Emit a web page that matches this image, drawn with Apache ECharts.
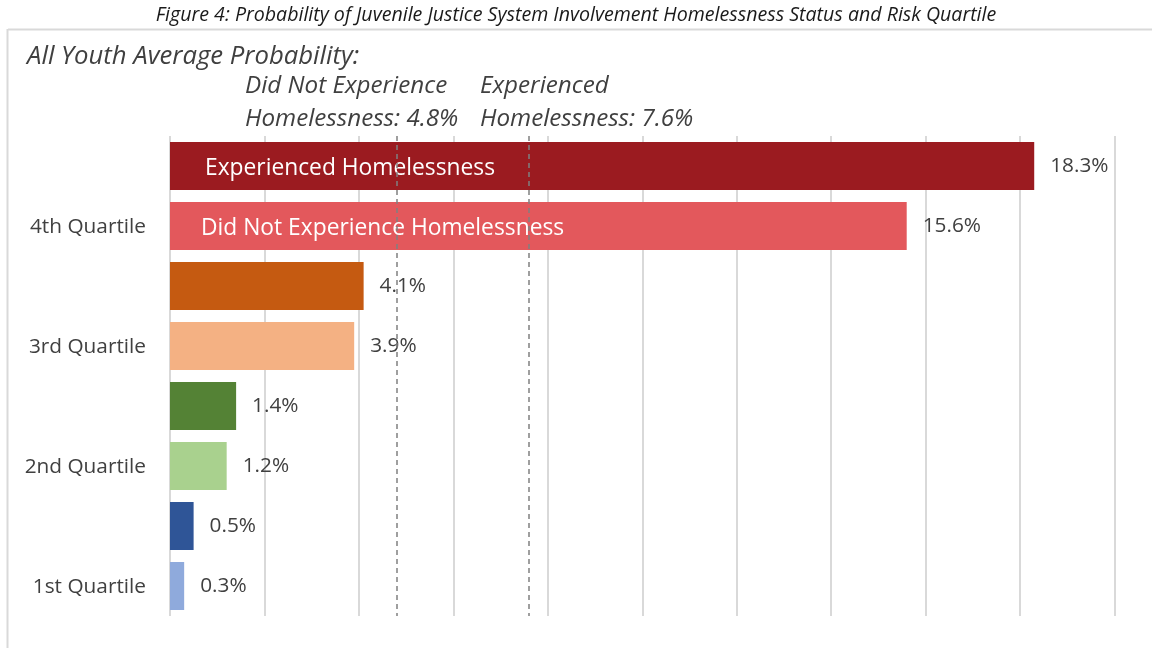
<!DOCTYPE html>
<html>
<head>
<meta charset="utf-8">
<script src="https://cdn.jsdelivr.net/npm/echarts@6/dist/echarts.min.js"></script>
<style>
  html, body { margin: 0; padding: 0; background: #ffffff; }
  #chart { width: 1152px; height: 648px; }
</style>
</head>
<body>
<div id="chart"></div>
<script>
// Probability (%) of juvenile justice system involvement by risk quartile
const quartiles = ['4th Quartile', '3rd Quartile', '2nd Quartile', '1st Quartile'];
const experienced = [18.3, 4.1, 1.4, 0.5];
const notExperienced = [15.6, 3.9, 1.2, 0.3];
const averageNot = 4.8;
const averageExperienced = 7.6;

const seriesNames = ['Experienced Homelessness', 'Did Not Experience Homelessness'];
const darkColors = ['#9b1b20', '#c55a11', '#548235', '#2f5597'];
const lightColors = ['#e3585c', '#f4b183', '#a9d18e', '#8faadc'];

const FONT = '"Open Sans"';
const TEXT = '#404040';

function colored(values, colors) {
  return values.map((v, i) => ({ value: v, itemStyle: { color: colors[i] } }));
}

// zero-length bar at the start of the top group that carries the series name
function nameCarrier(values) {
  return values.map((v, i) => (i === 0 ? 0 : '-'));
}

const chart = echarts.init(document.getElementById('chart'));

const valueLabel = {
  show: true,
  position: 'right',
  distance: 16,
  color: TEXT,
  fontFamily: FONT,
  fontSize: 20.8,
  formatter: p => p.value.toFixed(1) + '%'
};

const nameLabel = (dist) => ({
  show: true,
  position: 'right',
  distance: dist,
  offset: [0, 3],
  color: '#ffffff',
  fontFamily: FONT,
  fontSize: 22.8,
  formatter: p => p.seriesName
});

chart.setOption({
  animation: false,
  backgroundColor: '#ffffff',
  grid: { left: 170, right: 37.5, top: 136, bottom: 32, containLabel: false },
  xAxis: {
    type: 'value',
    min: 0,
    max: 20,
    interval: 2,
    axisLabel: { show: false },
    axisLine: { show: false },
    axisTick: { show: false },
    splitLine: { show: true, lineStyle: { color: '#d9d9d9', width: 2 } }
  },
  yAxis: {
    type: 'category',
    data: quartiles,
    inverse: true,
    axisLine: { show: false },
    axisTick: { show: false },
    axisLabel: {
      interval: 0,
      hideOverlap: false,
      color: TEXT,
      fontFamily: FONT,
      fontSize: 20.8,
      margin: 24,
      lineHeight: 62,
      // each quartile name sits beside the lower bar of its pair
      formatter: v => '\n' + v
    }
  },
  graphic: [
    { type: 'line', shape: { x1: 8, y1: 29.5, x2: 1152, y2: 29.5 }, style: { stroke: '#d9d9d9', lineWidth: 2 } },
    { type: 'line', shape: { x1: 7.5, y1: 29, x2: 7.5, y2: 648 }, style: { stroke: '#d9d9d9', lineWidth: 2 } },
    { type: 'text', left: 'center', top: 5,
      style: { text: 'Figure 4: Probability of Juvenile Justice System Involvement Homelessness Status and Risk Quartile',
               fill: '#1a1a1a', font: 'italic 19.6px ' + FONT } },
    { type: 'text', left: 27, top: 44,
      style: { text: 'All Youth Average Probability:', fill: TEXT, font: 'italic 25.7px ' + FONT } },
    { type: 'text', left: 245, top: 70,
      style: { text: 'Did Not Experience\nHomelessness: ' + averageNot.toFixed(1) + '%', fill: TEXT,
               font: 'italic 24.2px ' + FONT, lineHeight: 33 } },
    { type: 'text', left: 480, top: 70,
      style: { text: 'Experienced\nHomelessness: ' + averageExperienced.toFixed(1) + '%', fill: TEXT,
               font: 'italic 24.2px ' + FONT, lineHeight: 33 } }
  ],
  series: [
    {
      name: seriesNames[0], type: 'bar', stack: 'exp', z: 4,
      barWidth: 48, barGap: '25%',
      data: nameCarrier(experienced),
      itemStyle: { color: 'rgba(0,0,0,0)' },
      label: nameLabel(35)
    },
    {
      name: seriesNames[0], type: 'bar', stack: 'exp',
      barWidth: 48, barGap: '25%',
      data: colored(experienced, darkColors),
      label: valueLabel
    },
    {
      name: seriesNames[1], type: 'bar', stack: 'not', z: 4,
      barWidth: 48, barGap: '25%',
      data: nameCarrier(notExperienced),
      itemStyle: { color: 'rgba(0,0,0,0)' },
      label: nameLabel(31)
    },
    {
      name: seriesNames[1], type: 'bar', stack: 'not',
      barWidth: 48, barGap: '25%',
      data: colored(notExperienced, lightColors),
      label: valueLabel,
      markLine: {
        silent: true,
        symbol: 'none',
        z: 5,
        label: { show: false },
        lineStyle: { color: '#808080', type: [5, 4], width: 1.5 },
        data: [{ xAxis: averageNot }, { xAxis: averageExperienced }]
      }
    }
  ]
});
</script>
</body>
</html>
